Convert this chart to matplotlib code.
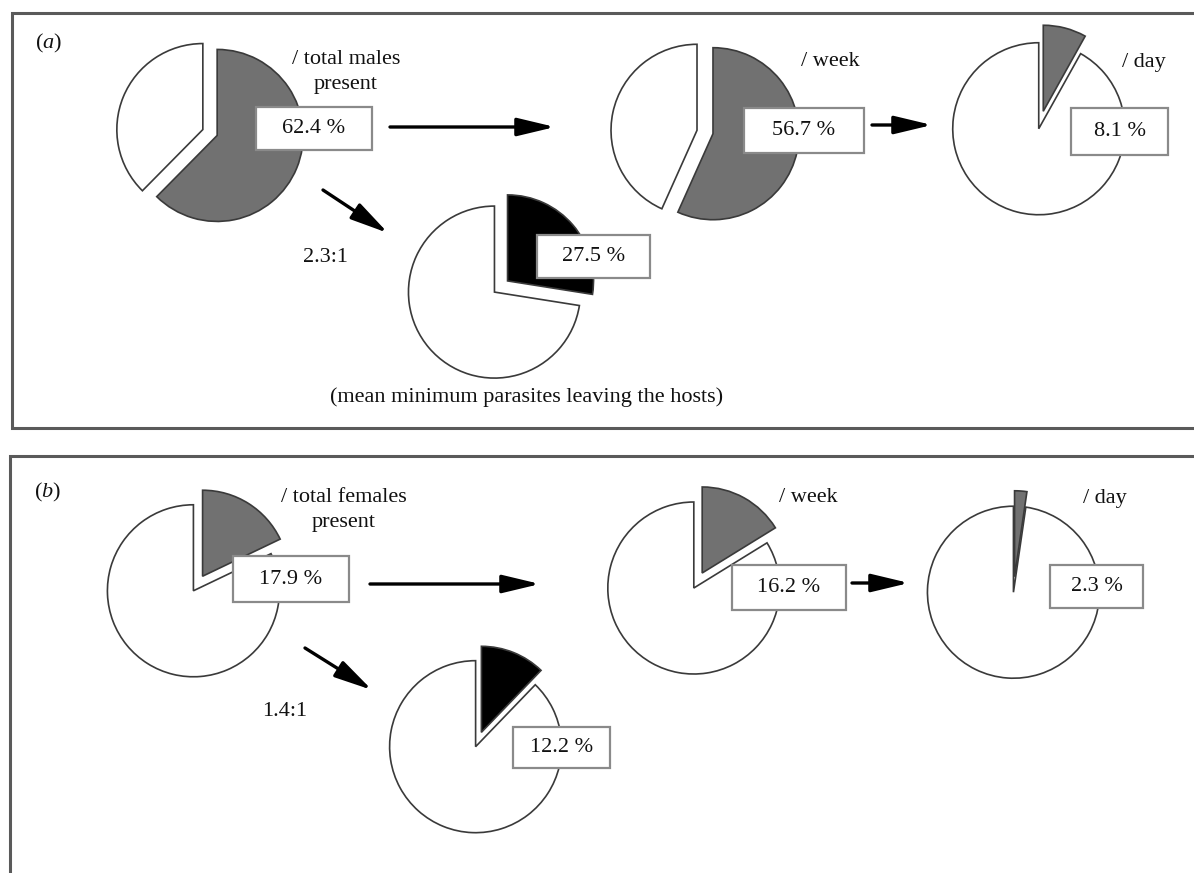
import matplotlib
matplotlib.use('Agg')
import matplotlib.pyplot as plt
from matplotlib.patches import Rectangle

plt.rcParams['font.family'] = ['Liberation Serif', 'DejaVu Serif']
plt.rcParams['mathtext.fontset'] = 'custom'
plt.rcParams['mathtext.rm'] = 'Liberation Serif'
plt.rcParams['mathtext.it'] = 'Liberation Serif:italic'

# parasite proportions (%) for males (a) and females (b)
panel_ids = ['a', 'b']
total_labels = ['/ total males\npresent', '/ total females\npresent']
present_pct = [62.4, 17.9]
week_pct = [56.7, 16.2]
day_pct = [8.1, 2.3]
leaving_pct = [27.5, 12.2]
ratio_labels = ['2.3:1', '1.4:1']
caption = '(mean minimum parasites leaving the hosts)'

W, H = 1194, 873
R = 86  # pie radius in pixels
GREY = '#717171'
EDGE = '#3a3a3a'
BOX_EDGE = '#8a8a8a'
TXT = '#111111'

# layout in pixel coordinates (x right, y down)
layout = {
    'a': dict(
        frame=(12, 13, 428),
        letter=(35, 43),
        pies=dict(total=((210, 132.5), 0.09), week=((705, 132), 0.095),
                  day=((1041, 120), 0.105), leave=((501, 286.5), 0.10)),
        boxes=dict(total=(256, 107, 372, 150), week=(744, 108, 864, 153),
                   day=(1071, 108, 1168, 155), leave=(537, 235, 650, 278)),
        labels=dict(total=(346, 72), week=(830, 62), day=(1144, 62)),
        ratio=(326, 257),
        arrows=[((390, 127), (555, 127)), ((872, 125), (932, 125)),
                ((323, 190), (388, 233))],
    ),
    'b': dict(
        frame=(10, 456, None),
        letter=(34, 492),
        pies=dict(total=((198, 583.5), 0.10), week=((698, 580.5), 0.10),
                  day=((1014, 584.5), 0.09), leave=((478.5, 739.5), 0.09)),
        boxes=dict(total=(233, 556, 349, 602), week=(732, 565, 846, 610),
                   day=(1050, 565, 1143, 608), leave=(513, 727, 610, 768)),
        labels=dict(total=(344, 510), week=(808, 498), day=(1105, 498)),
        ratio=(285, 712),
        arrows=[((370, 584), (540, 584)), ((852, 583), (909, 583)),
                ((305, 648), (372, 690))],
    ),
}
caption_pos = (527, 397)

fig = plt.figure(figsize=(W / 100, H / 100), dpi=100)
fig.patch.set_facecolor('white')


def draw_pie(center, explode, pct, fill):
    cx, cy = center
    half = 1.25 * R
    pax = fig.add_axes([(cx - half) / W, (H - cy - half) / H, 2 * half / W, 2 * half / H])
    pax.pie([pct, 100 - pct], explode=[explode, explode], colors=[fill, 'white'],
            startangle=90, counterclock=False, radius=1,
            wedgeprops=dict(edgecolor=EDGE, linewidth=1.2))
    pax.set_xlim(-1.25, 1.25)
    pax.set_ylim(-1.25, 1.25)
    pax.axis('off')


for i, pid in enumerate(panel_ids):
    lay = layout[pid]
    pcts = dict(total=present_pct[i], week=week_pct[i], day=day_pct[i], leave=leaving_pct[i])
    for key, (center, ex) in lay['pies'].items():
        draw_pie(center, ex, pcts[key], 'black' if key == 'leave' else GREY)

# overlay axes for frames, boxes, arrows and text
ax = fig.add_axes([0, 0, 1, 1])
ax.set_xlim(0, W)
ax.set_ylim(H, 0)
ax.axis('off')
ax.patch.set_alpha(0)

for i, pid in enumerate(panel_ids):
    lay = layout[pid]
    x0, top, bottom = lay['frame']
    if bottom is None:
        ax.plot([W, x0, x0], [top, top, H], color='#5a5a5a', lw=2.2, solid_joinstyle='miter')
    else:
        ax.plot([W, x0, x0, W], [top, top, bottom, bottom], color='#5a5a5a', lw=2.2,
                solid_joinstyle='miter')

    ax.text(lay['letter'][0], lay['letter'][1], '(' + r'$\mathit{' + pid + '}$' + ')',
            fontsize=16, color=TXT, ha='left', va='center')

    pcts = dict(total=present_pct[i], week=week_pct[i], day=day_pct[i], leave=leaving_pct[i])
    for key, (bx0, by0, bx1, by1) in lay['boxes'].items():
        ax.add_patch(Rectangle((bx0, by0), bx1 - bx0, by1 - by0, facecolor='white',
                               edgecolor=BOX_EDGE, lw=1.6))
        ax.text((bx0 + bx1) / 2, (by0 + by1) / 2, f'{pcts[key]} %', fontsize=16,
                color=TXT, ha='center', va='center')

    label_text = dict(total=total_labels[i], week='/ week', day='/ day')
    for key, (lx, ly) in lay['labels'].items():
        ax.text(lx, ly, label_text[key], fontsize=16, color=TXT, ha='center',
                va='center', linespacing=1.4)

    ax.text(lay['ratio'][0], lay['ratio'][1], ratio_labels[i], fontsize=16, color=TXT,
            ha='center', va='center')

    for start, end in lay['arrows']:
        ax.annotate('', xy=end, xytext=start,
                    arrowprops=dict(arrowstyle='-|>,head_length=2.3,head_width=0.55',
                                    mutation_scale=10, lw=2.4, color='black',
                                    shrinkA=0, shrinkB=0))

ax.text(caption_pos[0], caption_pos[1], caption, fontsize=16, color=TXT,
        ha='center', va='center')

fig.savefig('out.png', dpi=100, facecolor='white')
